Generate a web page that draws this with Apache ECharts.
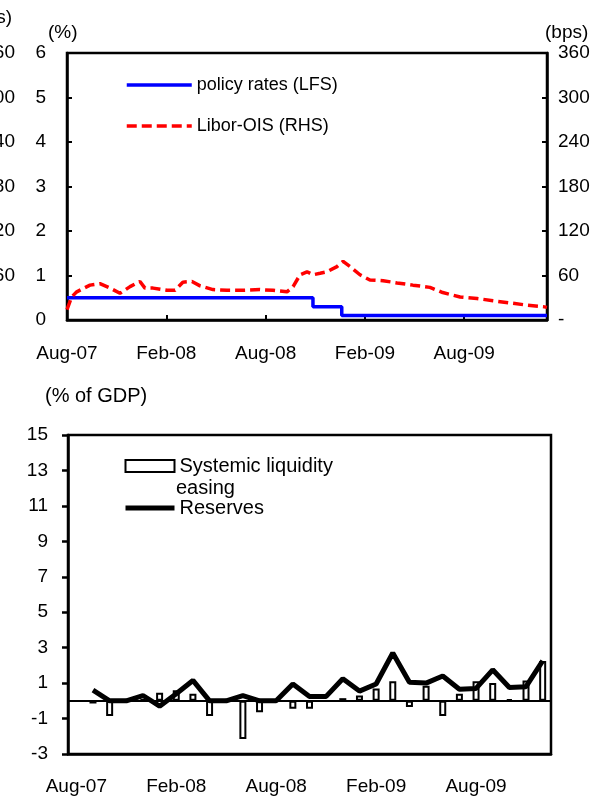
<!DOCTYPE html>
<html>
<head>
<meta charset="utf-8">
<script src="https://cdn.jsdelivr.net/npm/echarts@6/dist/echarts.min.js"></script>
<style>
  html, body { margin: 0; padding: 0; background: #fff; }
  #chart { width: 610px; height: 806px; }
</style>
</head>
<body>
<div id="chart"></div>
<script>
// top panel: months counted from Aug-07
var monthTicks = ['Aug-07', 'Feb-08', 'Aug-08', 'Feb-09', 'Aug-09'];
var policyMonths = [0, 14.86, 16.6, 29];
var policyRates = [0.5, 0.3, 0.1, 0.1];
var liborMonths = [0, 0.28, 0.59, 1.39, 1.99, 2.6, 3.2, 3.81, 4.41, 4.71, 5.2, 6.04, 6.53, 7.0, 7.55,
  8.04, 8.82, 9.67, 10.63, 11.66, 12.45, 13.29, 13.66, 14.08, 14.5, 14.86, 15.29, 15.71, 16.31,
  16.68, 17.1, 17.7, 18.3, 19.1, 19.94, 20.9, 21.93, 22.7, 23.75, 24.77, 25.74, 26.77, 27.8, 28.76, 29];
var liborBps = [14, 31, 38, 47, 49, 43, 36, 45, 52, 43, 43, 40, 40, 51, 52,
  46, 41, 40, 40, 41, 40, 38, 45, 61, 65, 61, 63, 65, 72,
  79, 72, 61, 54, 53, 50, 47, 44, 37, 31, 29, 26, 23, 20, 18, 17];
// right-hand labels of the neighbouring panel, cut off by the left edge
var cutPanelTicks = ['360', '300', '240', '180', '120', '60'];

// bottom panel
var months = ['Aug-07', 'Sep-07', 'Oct-07', 'Nov-07', 'Dec-07',
  'Jan-08', 'Feb-08', 'Mar-08', 'Apr-08', 'May-08', 'Jun-08', 'Jul-08', 'Aug-08', 'Sep-08', 'Oct-08', 'Nov-08', 'Dec-08',
  'Jan-09', 'Feb-09', 'Mar-09', 'Apr-09', 'May-09', 'Jun-09', 'Jul-09', 'Aug-09', 'Sep-09', 'Oct-09', 'Nov-09', 'Dec-09'];
var liquidityEasing = [null, -0.15, -0.85, null, 0.1, 0.45, 0.6, 0.4, -0.85, null, -2.15, -0.65, null, -0.45, -0.45,
  null, 0.15, 0.3, 0.7, 1.1, -0.35, 0.85, -0.85, 0.4, 1.1, 1.0, 0.1, 1.15, 2.25];
var reserves = [null, 0.6, 0.0, 0.0, 0.3, -0.3, 0.4, 1.15, 0.0, 0.0, 0.3, 0.0, 0.0, 0.95, 0.25,
  0.25, 1.25, 0.55, 0.95, 2.7, 1.05, 1.0, 1.4, 0.65, 0.7, 1.75, 0.75, 0.8, 2.25];
var bottomTicks = [-3, -1, 1, 3, 5, 7, 9, 11, 13, 15];

var FONT = '"Liberation Sans", Arial, sans-serif';
var NO_DOT = { color: 'transparent', borderWidth: 0 };

function pairs(xs, ys) {
  return xs.map(function (x, i) { return [x, ys[i]]; });
}

var chart = echarts.init(document.getElementById('chart'), null, { renderer: 'canvas' });

var graphics = [
  { type: 'text', left: 48, top: 23, style: { text: '(%)', font: '19px ' + FONT, fill: '#000' } },
  { type: 'text', left: 545, top: 23, style: { text: '(bps)', font: '19px ' + FONT, fill: '#000' } },
  { type: 'text', left: 45, top: 386, style: { text: '(% of GDP)', font: '20px ' + FONT, fill: '#000' } },
  { type: 'text', left: 176, top: 478, style: { text: 'easing', font: '20px ' + FONT, fill: '#000' } },
  { type: 'text', x: 12, y: 18, style: { text: '(bps)', align: 'right', verticalAlign: 'middle', font: '19px ' + FONT, fill: '#000' } }
];
cutPanelTicks.forEach(function (t, i) {
  graphics.push({ type: 'text', x: 15, y: 53 + i * 44.5,
    style: { text: t, align: 'right', verticalAlign: 'middle', font: '19px ' + FONT, fill: '#000' } });
});

var option = {
  animation: false,
  textStyle: { fontFamily: FONT, color: '#000' },
  graphic: graphics,
  legend: [{
    data: [
      { name: 'policy rates (LFS)', itemStyle: NO_DOT },
      { name: 'Libor-OIS (RHS)', itemStyle: NO_DOT }
    ],
    orient: 'vertical',
    left: 125, top: 76, padding: 0,
    itemWidth: 65, itemHeight: 14, itemGap: 23, itemTextGap: 6,
    selectedMode: false,
    lineStyle: { width: 3.5 },
    textStyle: { fontSize: 18, color: '#000' }
  }, {
    data: [
      { name: 'Systemic liquidity easing', icon: 'rect' },
      { name: 'Reserves', itemStyle: NO_DOT }
    ],
    orient: 'vertical',
    left: 123, top: 456, padding: 0,
    itemWidth: 49, itemHeight: 12, itemGap: 22, itemTextGap: 4,
    selectedMode: false,
    lineStyle: { width: 5 },
    formatter: function (name) { return name === 'Reserves' ? name : 'Systemic liquidity'; },
    textStyle: { fontSize: 20, color: '#000' }
  }],
  grid: [
    { left: 67, top: 53, width: 480, height: 267, show: true, borderColor: '#000', borderWidth: 2.5, backgroundColor: 'transparent' },
    { left: 68, top: 435, width: 483, height: 319, show: true, borderColor: '#000', borderWidth: 2.5, backgroundColor: 'transparent' }
  ],
  xAxis: [{
    type: 'value', gridIndex: 0, min: 0, max: 29, interval: 6,
    axisLine: { lineStyle: { color: '#000', width: 2.5 } },
    axisTick: { inside: true, length: 5, lineStyle: { color: '#000', width: 2 } },
    splitLine: { show: false },
    axisLabel: {
      margin: 24, fontSize: 19, color: '#000', showMaxLabel: false,
      formatter: function (v) { return monthTicks[v / 6] || ''; }
    }
  }, {
    type: 'category', gridIndex: 1, data: months, boundaryGap: true,
    axisLine: { onZero: true, lineStyle: { color: '#000', width: 2 } },
    axisTick: { interval: 5, length: 8, lineStyle: { color: '#000', width: 2 } },
    axisLabel: { show: false }
  }, {
    type: 'category', gridIndex: 1, data: months, boundaryGap: true, position: 'bottom',
    axisLine: { onZero: false, lineStyle: { color: '#000', width: 2.5 } },
    axisTick: { show: false },
    axisLabel: { interval: 5, margin: 23, fontSize: 19, color: '#000' }
  }],
  yAxis: [{
    type: 'value', gridIndex: 0, min: 0, max: 6, interval: 1,
    axisLine: { show: true, lineStyle: { color: '#000', width: 2.5 } },
    axisTick: { show: true, inside: true, length: 5, lineStyle: { color: '#000', width: 2 } },
    splitLine: { show: false },
    axisLabel: { margin: 21, fontSize: 19, color: '#000' }
  }, {
    type: 'value', gridIndex: 0, position: 'right', min: 0, max: 360, interval: 60,
    axisLine: { show: true, lineStyle: { color: '#000', width: 2.5 } },
    axisTick: { show: true, inside: true, length: 5, lineStyle: { color: '#000', width: 2 } },
    splitLine: { show: false },
    axisLabel: { margin: 11, fontSize: 19, color: '#000',
      formatter: function (v) { return v === 0 ? '-' : v; } }
  }, {
    type: 'value', gridIndex: 1, min: -3, max: 15, interval: 2,
    axisLine: { show: true, onZero: false, lineStyle: { color: '#000', width: 2.5 } },
    axisTick: { show: true, length: 6, customValues: bottomTicks, lineStyle: { color: '#000', width: 2.5 } },
    splitLine: { show: false },
    axisLabel: { margin: 20, fontSize: 19, color: '#000', customValues: bottomTicks }
  }],
  series: [{
    name: 'policy rates (LFS)', type: 'line', xAxisIndex: 0, yAxisIndex: 0,
    step: 'end', symbol: 'none', silent: true,
    data: pairs(policyMonths, policyRates),
    itemStyle: { color: '#0000ff' },
    lineStyle: { color: '#0000ff', width: 3.5 }
  }, {
    name: 'Libor-OIS (RHS)', type: 'line', xAxisIndex: 0, yAxisIndex: 1,
    symbol: 'none', silent: true,
    data: pairs(liborMonths, liborBps),
    itemStyle: { color: '#ff0000' },
    lineStyle: { color: '#ff0000', width: 3.5, type: [10, 5] }
  }, {
    name: 'Systemic liquidity easing', type: 'bar', xAxisIndex: 1, yAxisIndex: 2,
    barWidth: 7, silent: true,
    data: liquidityEasing,
    itemStyle: { color: '#fff', borderColor: '#000', borderWidth: 2 }
  }, {
    name: 'Reserves', type: 'line', xAxisIndex: 1, yAxisIndex: 2,
    symbol: 'none', silent: true,
    data: reserves,
    itemStyle: { color: '#000' },
    lineStyle: { color: '#000', width: 5 }
  }]
};

chart.setOption(option);
</script>
</body>
</html>
